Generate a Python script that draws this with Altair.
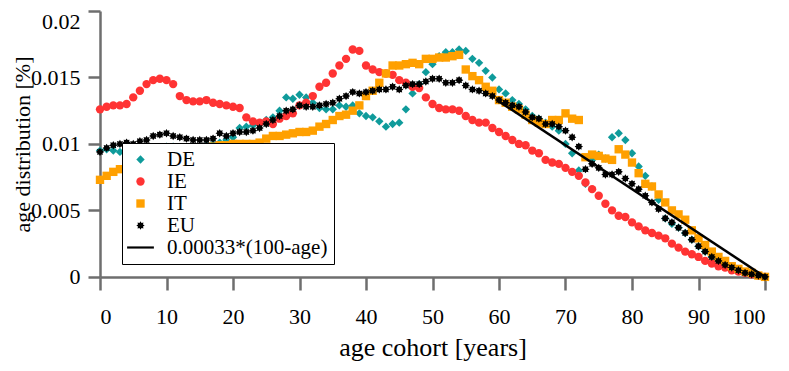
import math
import altair as alt
import pandas as pd

ages = list(range(101))

de = [0.0095, 0.0096, 0.0095, 0.0094, 0.0093, 0.0093, 0.0094, 0.0095, 0.0096, 0.0097,
      0.0098, 0.0098, 0.0097, 0.0097, 0.0097, 0.0098, 0.0099, 0.0100, 0.0101, 0.0103,
      0.0105, 0.0112, 0.0113, 0.0114, 0.0115, 0.0118, 0.0120, 0.0125, 0.0135, 0.0134,
      0.0137, 0.0135, 0.0131, 0.0127, 0.0126, 0.0126, 0.0129, 0.0128, 0.0129, 0.0123,
      0.0121, 0.0120, 0.0117, 0.0113, 0.0115, 0.0116, 0.0126, 0.0138, 0.0145, 0.0154,
      0.0160, 0.0166, 0.0169, 0.0169, 0.0171, 0.0170, 0.0164, 0.0161, 0.0155, 0.0150,
      0.0141, 0.0138, 0.0133, 0.0130, 0.0126, 0.0121, 0.0119, 0.0116, 0.0113, 0.0110,
      0.0100, 0.0093, 0.0080, 0.0070, 0.0088, 0.0092, 0.0089, 0.0105, 0.0108, 0.0103,
      0.0093, 0.0083, 0.0076, 0.0068, 0.0058, 0.0044, 0.0040, 0.0037, 0.0033, 0.0028,
      0.0023, 0.0019, 0.0015, 0.0012, 0.0009, 0.0007, 0.0005, 0.0003, 0.0002, 0.0001,
      0.0000]

ie = [0.0126, 0.0128, 0.0129, 0.0129, 0.0130, 0.0135, 0.0140, 0.0145, 0.0148, 0.0149,
      0.0148, 0.0145, 0.0136, 0.0133, 0.0132, 0.0132, 0.0133, 0.0131, 0.0130, 0.0129,
      0.0128, 0.0127, 0.0120, 0.0117, 0.0116, 0.0117, 0.0115, 0.0119, 0.0121, 0.0123,
      0.0129, 0.0131, 0.0136, 0.0143, 0.0146, 0.0153, 0.0159, 0.0164, 0.0171, 0.0170,
      0.0159, 0.0156, 0.0154, 0.0153, 0.0152, 0.0148, 0.0146, 0.0143, 0.0142, 0.0135,
      0.0130, 0.0127, 0.0126, 0.0126, 0.0125, 0.0121, 0.0118, 0.0116, 0.0116, 0.0112,
      0.0109, 0.0106, 0.0103, 0.0100, 0.0099, 0.0095, 0.0093, 0.0088, 0.0086, 0.0085,
      0.0082, 0.0079, 0.0076, 0.0071, 0.0066, 0.0061, 0.0055, 0.0050, 0.0046, 0.0045,
      0.0041, 0.0038, 0.0035, 0.0033, 0.0031, 0.0029, 0.0025, 0.0022, 0.0019, 0.0017,
      0.0015, 0.0012, 0.0010, 0.0008, 0.0007, 0.0005, 0.0004, 0.0003, 0.0002, 0.0001,
      0.0000]

it = [0.0073, 0.0076, 0.0079, 0.0081, 0.0083, 0.0085, 0.0087, 0.0088, 0.0090, 0.0091,
      0.0092, 0.0093, 0.0094, 0.0095, 0.0096, 0.0097, 0.0097, 0.0098, 0.0099, 0.0099,
      0.0100, 0.0100, 0.0100, 0.0100, 0.0101, 0.0104, 0.0106, 0.0106, 0.0107, 0.0108,
      0.0109, 0.0109, 0.0110, 0.0113, 0.0115, 0.0118, 0.0121, 0.0122, 0.0125, 0.0129,
      0.0136, 0.0140, 0.0146, 0.0153, 0.0159, 0.0159, 0.0160, 0.0161, 0.0160, 0.0164,
      0.0164, 0.0165, 0.0165, 0.0166, 0.0167, 0.0156, 0.0151, 0.0148, 0.0143, 0.0140,
      0.0133, 0.0131, 0.0128, 0.0126, 0.0122, 0.0118, 0.0116, 0.0115, 0.0118, 0.0118,
      0.0123, 0.0119, 0.0118, 0.0090, 0.0092, 0.0091, 0.0089, 0.0088, 0.0096, 0.0092,
      0.0086, 0.0078, 0.0070, 0.0068, 0.0062, 0.0056, 0.0050, 0.0047, 0.0043, 0.0035,
      0.0029, 0.0024, 0.0019, 0.0015, 0.0012, 0.0008, 0.0006, 0.0004, 0.0003, 0.0001,
      0.0000]

eu = [0.0094, 0.0097, 0.0099, 0.0100, 0.0101, 0.0100, 0.0102, 0.0103, 0.0106, 0.0107,
      0.0108, 0.0106, 0.0105, 0.0104, 0.0103, 0.0103, 0.0103, 0.0104, 0.0108, 0.0106,
      0.0108, 0.0109, 0.0109, 0.0110, 0.0112, 0.0115, 0.0118, 0.0121, 0.0125, 0.0126,
      0.0129, 0.0128, 0.0128, 0.0129, 0.0130, 0.0131, 0.0134, 0.0136, 0.0139, 0.0138,
      0.0139, 0.0140, 0.0141, 0.0141, 0.0143, 0.0141, 0.0144, 0.0145, 0.0145, 0.0147,
      0.0149, 0.0149, 0.0146, 0.0146, 0.0148, 0.0144, 0.0141, 0.0140, 0.0138, 0.0136,
      0.0133, 0.0131, 0.0129, 0.0128, 0.0124, 0.0120, 0.0119, 0.0115, 0.0115, 0.0113,
      0.0110, 0.0105, 0.0098, 0.0081, 0.0085, 0.0082, 0.0077, 0.0077, 0.0079, 0.0074,
      0.0070, 0.0066, 0.0061, 0.0056, 0.0051, 0.0044, 0.0041, 0.0037, 0.0033, 0.0028,
      0.0023, 0.0019, 0.0015, 0.0012, 0.0009, 0.0007, 0.0005, 0.0003, 0.0002, 0.0001,
      0.0000]

line_label = "0.00033*(100-age)"
line_ages = [60, 100]
line_vals = [0.0132, 0.0]

series_names = ["DE", "IE", "IT", "EU", line_label]
series_colors = ["#0f9b9b", "#ff3333", "#ffa000", "#000000", "#000000"]

# 8-pointed asterisk marker
pts = []
for k in range(16):
    a = math.pi * k / 8
    r = 1.0 if k % 2 == 0 else 0.65
    pts.append(f"{r*math.cos(a):.3f},{r*math.sin(a):.3f}")
asterisk = "M" + "L".join(pts) + "Z"
# long thin bar used as the legend symbol of the reference line
legend_bar = "M-3.2,-0.26L3.2,-0.26L3.2,0.26L-3.2,0.26Z"
series_shapes = ["diamond", "circle", "square", asterisk, legend_bar]

rows = []
for name, vals in [("DE", de), ("IE", ie), ("IT", it), ("EU", eu)]:
    for a, v in zip(ages, vals):
        rows.append({"age": a, "value": v, "series": name})
pts_df = pd.DataFrame(rows)
line_df = pd.DataFrame({"age": line_ages, "value": line_vals, "series": [line_label] * 2})

FONT = "Liberation Serif"
AX = "#6e6e6e"

xenc = alt.X("age:Q", scale=alt.Scale(domain=[0, 100], nice=False),
             axis=alt.Axis(values=list(range(0, 101, 10)), title="age cohort [years]",
                           tickSize=13, labelPadding=16,
                           titleY=78, titleBaseline="alphabetic"))
yenc = alt.Y("value:Q", scale=alt.Scale(domain=[-0.00001, 0.02], nice=False),
             axis=alt.Axis(values=[0, 0.005, 0.01, 0.015, 0.02], format="~g",
                           title="age distribution  [%]", tickSize=12, labelPadding=8,
                           labelFlush=0.05, labelFlushOffset=0,
                           titleX=-71, titleBaseline="alphabetic", titleFontSize=22))

color_scale = alt.Scale(domain=series_names, range=series_colors)
shape_scale = alt.Scale(domain=series_names, range=series_shapes)

legend = alt.Legend(
    title=None, orient="none", legendX=22, legendY=132,
    fillColor="white", strokeColor="black", padding=6,
    labelFont=FONT, labelFontSize=21, labelColor="black", labelLimit=400,
    symbolSize=70, symbolOffset=2, labelOffset=16, rowPadding=0,
    symbolStrokeWidth=0,
)

points = alt.Chart(pts_df).mark_point(filled=True, opacity=1, size=70).encode(
    x=xenc, y=yenc,
    color=alt.Color("series:N", scale=color_scale, legend=legend),
    shape=alt.Shape("series:N", scale=shape_scale, legend=legend),
    order=alt.Order("idx:Q"),
).transform_calculate(idx="indexof(['DE','IE','IT','EU'], datum.series)")

line = alt.Chart(line_df).mark_line(strokeWidth=2.5).encode(
    x=xenc, y=yenc,
    color=alt.Color("series:N", scale=color_scale, legend=legend),
)

chart = alt.layer(points, line).properties(
    width=665, height=266,
    autosize=alt.AutoSizeParams(type="none"),
    padding={"left": 92, "top": 3, "right": 8, "bottom": 86},
).configure_view(stroke=None).configure_axis(
    grid=False, domainColor=AX, tickColor=AX, domainWidth=2.5, tickWidth=2.5,
    labelFont=FONT, labelFontSize=22, labelColor="black",
    titleFont=FONT, titleFontSize=26, titleColor="black", titleFontWeight="normal",
)

chart.save("out.html", embed_options={"renderer": "svg", "actions": False})
